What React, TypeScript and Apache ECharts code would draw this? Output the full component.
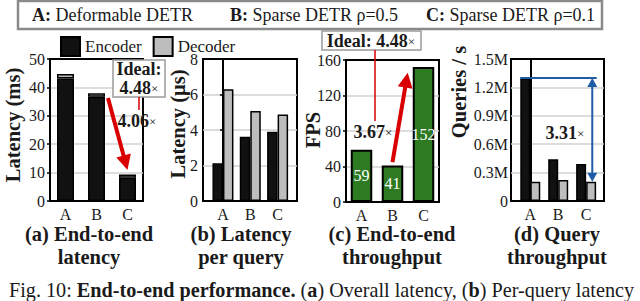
import React, { useEffect, useRef } from 'react';
import * as echarts from 'echarts';

// ---------- data ----------
const categories = ['A', 'B', 'C'];
const e2eEncoder = [43.1, 36.75, 8.2];
const e2eDecoder = [1.6, 1.2, 1.15];
const perQueryEncoder = [2.12, 3.62, 3.9];
const perQueryDecoder = [6.29, 5.07, 4.88];
const fps = [59, 41, 152];
const qpsEncoder = [1.3, 0.441, 0.392];
const qpsDecoder = [0.204, 0.222, 0.204];
const methodKeys = ['A:', 'B:', 'C:'];
const methodNames = ['Deformable DETR', 'Sparse DETR ρ=0.5', 'Sparse DETR ρ=0.1'];
const latencyTicks = [0, 10, 20, 30, 40, 50];
const perQueryTicks = [0, 2, 4, 6, 8];
const fpsTicks = [0, 40, 80, 120, 160];
const qpsTicks = [0, 0.3, 0.6, 0.9, 1.2, 1.5];

const FF = "'Liberation Serif', 'Times New Roman', serif";
const TXT = '#1a1a1a';
const RED = '#d80000';
const BLUE = '#1f5ca6';

const gridBoxes = [
  { left: 50, top: 59, width: 93, height: 142 },
  { left: 203, top: 59, width: 94, height: 142 },
  { left: 346, top: 60, width: 93, height: 142 },
  { left: 511, top: 59, width: 93, height: 142 },
];
// null => category axis with evenly spaced bands
const xRanges: (number[] | null)[] = [null, [-0.73, 2.71], null, [-0.69, 2.64]];
const yTickSets = [latencyTicks, perQueryTicks, fpsTicks, qpsTicks];

const pairs = (arr: number[]) => arr.map((v, i) => [i, v]);

function buildOption(): any {
  const grid = gridBoxes.map((g) => ({
    ...g,
    show: true,
    borderColor: '#000',
    borderWidth: 2,
    backgroundColor: 'transparent',
    containLabel: false,
    outerBoundsMode: 'none',
  }));
  const labelStyle = { fontFamily: FF, fontSize: 16, color: TXT, margin: 5 };
  const xAxis = xRanges.map((r, i) =>
    r
      ? {
          type: 'value',
          gridIndex: i,
          min: r[0],
          max: r[1],
          axisLine: { show: false },
          axisTick: { show: false, customValues: [0, 1, 2] },
          splitLine: { show: false },
          axisLabel: {
            ...labelStyle,
            customValues: [0, 1, 2],
            formatter: (v: number) => categories[Math.round(v)] ?? '',
          },
        }
      : {
          type: 'category',
          gridIndex: i,
          data: categories,
          axisLine: { show: false },
          axisTick: { show: false },
          splitLine: { show: false },
          axisLabel: labelStyle,
        }
  );
  const yAxis = yTickSets.map((ticks, i) => ({
    type: 'value',
    gridIndex: i,
    min: ticks[0],
    max: ticks[ticks.length - 1],
    interval: ticks[1] - ticks[0],
    axisLine: { show: true, lineStyle: { color: '#000', width: 2 } },
    axisTick: { show: true, length: 3, lineStyle: { color: '#000', width: 1.5 } },
    splitLine: {
      show: true,
      showMinLine: false,
      showMaxLine: false,
      lineStyle: { color: '#d2d2d2', width: 1.5 },
    },
    axisLabel: {
      fontFamily: FF,
      fontSize: 16,
      lineHeight: 12,
      color: TXT,
      margin: i === 3 ? 3 : 5,
      formatter:
        i === 3
          ? (v: number) => (Math.abs(v) < 1e-9 ? '0' : v.toFixed(1) + 'M')
          : (v: number) => String(Math.round(v)),
    },
  }));

  const blackStyle = { color: '#111', borderColor: '#000', borderWidth: 1.5 };
  const grayStyle = { color: '#bdbdbd', borderColor: '#000', borderWidth: 1.5 };

  const series: any[] = [
    {
      type: 'bar', name: 'Encoder', xAxisIndex: 0, yAxisIndex: 0, stack: 'e2e',
      data: e2eEncoder, barWidth: 17, itemStyle: blackStyle,
    },
    {
      type: 'bar', name: 'Decoder', xAxisIndex: 0, yAxisIndex: 0, stack: 'e2e',
      data: e2eDecoder, barWidth: 17, itemStyle: grayStyle,
    },
    {
      type: 'bar', name: 'Encoder', xAxisIndex: 1, yAxisIndex: 1,
      data: pairs(perQueryEncoder), barWidth: 10.5, barGap: '0%', itemStyle: blackStyle,
    },
    {
      type: 'bar', name: 'Decoder', xAxisIndex: 1, yAxisIndex: 1,
      data: pairs(perQueryDecoder), barWidth: 10.5, barGap: '0%', itemStyle: grayStyle,
    },
    {
      type: 'bar', name: 'FPS', xAxisIndex: 2, yAxisIndex: 2,
      data: fps, barWidth: 21.5,
      itemStyle: { color: '#2e7a22', borderColor: '#000', borderWidth: 2 },
      label: {
        show: true, position: 'inside', color: '#fff', fontFamily: FF, fontSize: 16,
      },
    },
    {
      type: 'bar', name: 'Encoder', xAxisIndex: 3, yAxisIndex: 3,
      data: pairs(qpsEncoder), barWidth: 10, barGap: '0%', itemStyle: blackStyle,
    },
    {
      type: 'bar', name: 'Decoder', xAxisIndex: 3, yAxisIndex: 3,
      data: pairs(qpsDecoder), barWidth: 10, barGap: '0%', itemStyle: grayStyle,
    },
  ];

  return {
    animation: false,
    backgroundColor: '#fff',
    grid,
    xAxis,
    yAxis,
    series,
    legend: {
      data: ['Encoder', 'Decoder'],
      left: 55,
      top: 31,
      itemWidth: 19,
      itemHeight: 19,
      itemGap: 11,
      icon: 'rect',
      selectedMode: false,
      textStyle: { fontFamily: FF, fontSize: 17, lineHeight: 14, color: TXT },
    },
  };
}

function txt(x: number, y: number, text: string, opts: any = {}) {
  const { rotation, ...style } = opts;
  return {
    type: 'text',
    x,
    y,
    rotation: rotation || 0,
    z: 100,
    silent: true,
    style: {
      text,
      fontFamily: FF,
      fontSize: 18,
      fill: TXT,
      align: 'center',
      textAlign: 'center',
      verticalAlign: 'middle',
      textVerticalAlign: 'middle',
      ...style,
    },
  };
}

function arrow(p0: number[], tip: number[], color: string, width: number, headLen: number, headHalf: number, bothEnds = false) {
  const dx = tip[0] - p0[0];
  const dy = tip[1] - p0[1];
  const len = Math.hypot(dx, dy);
  const ux = dx / len;
  const uy = dy / len;
  const nx = -uy;
  const ny = ux;
  const head = (t: number[], sx: number, sy: number) => {
    const bx = t[0] - sx * headLen;
    const by = t[1] - sy * headLen;
    return {
      type: 'polygon', z: 101, silent: true,
      shape: { points: [[t[0], t[1]], [bx + nx * headHalf, by + ny * headHalf], [bx - nx * headHalf, by - ny * headHalf]] },
      style: { fill: color },
    };
  };
  const start = bothEnds ? [p0[0] + ux * headLen * 0.8, p0[1] + uy * headLen * 0.8] : p0;
  const end = [tip[0] - ux * headLen * 0.8, tip[1] - uy * headLen * 0.8];
  const out: any[] = [
    {
      type: 'line', z: 100, silent: true,
      shape: { x1: start[0], y1: start[1], x2: end[0], y2: end[1] },
      style: { stroke: color, lineWidth: width },
    },
    head(tip, ux, uy),
  ];
  if (bothEnds) out.push(head(p0, -ux, -uy));
  return out;
}

function line(p0: number[], p1: number[], color: string, width: number) {
  return {
    type: 'line', z: 100, silent: true,
    shape: { x1: p0[0], y1: p0[1], x2: p1[0], y2: p1[1] },
    style: { stroke: color, lineWidth: width },
  };
}

function boxRect(x: number, y: number, w: number, h: number, stroke: string, lw: number) {
  return {
    type: 'rect', z: 99, silent: true,
    shape: { x, y, width: w, height: h },
    style: { fill: '#fff', stroke, lineWidth: lw },
  };
}

const bold = { fontWeight: 'bold', fontFamily: FF, fontSize: 18, fill: TXT };
const times = { fontWeight: 'normal', fontFamily: FF, fontSize: 13, fill: TXT };

function buildGraphics(px: (g: number, p: number[]) => number[]) {
  const g: any[] = [];
  // top method box
  g.push(boxRect(18, 1, 584, 28, '#8a8a8a', 2.5));
  const methodX = [32, 230, 426];
  methodKeys.forEach((k, i) => {
    g.push(
      txt(methodX[i], 15, `{b|${k}}{n| ${methodNames[i]}}`, {
        align: 'left', textAlign: 'left',
        rich: {
          b: { fontWeight: 'bold', fontFamily: FF, fontSize: 18, fill: TXT },
          n: { fontWeight: 'normal', fontFamily: FF, fontSize: 18, fill: TXT },
        },
      })
    );
  });

  // y-axis titles
  const yTitle = { rotation: Math.PI / 2, fontWeight: 'bold', fontSize: 20.5 };
  g.push(txt(13, 125, 'Latency (ms)', yTitle));
  g.push(txt(178, 124, 'Latency (μs)', yTitle));
  g.push(txt(313, 130, 'FPS', yTitle));
  g.push(txt(459, 92, 'Queries / s', yTitle));

  // subplot titles
  const sub = { fontWeight: 'bold', fontSize: 20.5 };
  g.push(txt(89, 234, '(a) End-to-end', sub));
  g.push(txt(89, 257, 'latency', sub));
  g.push(txt(241, 234, '(b) Latency', sub));
  g.push(txt(241, 257, 'per query', sub));
  g.push(txt(392, 234, '(c) End-to-end', sub));
  g.push(txt(392, 257, 'throughput', sub));
  g.push(txt(557, 234, '(d) Query', sub));
  g.push(txt(557, 257, 'throughput', sub));

  const rich = { b: bold, x: times };

  // (a) annotations
  g.push(boxRect(113, 60, 52, 37, '#9a9a9a', 1.5));
  g.push(txt(139, 69, '{b|Ideal:}', { rich }));
  g.push(txt(139, 88, '{b|4.48}{x|×}', { rich }));
  g.push(line([139, 97], [139, 110], RED, 1.5));
  g.push(txt(137, 121, '{b|4.06}{x|×}', { rich }));
  g.push(...arrow(px(0, [1.37, 36.3]), px(0, [2.0, 10.9]), RED, 4, 15, 7.5));

  // (c) annotations
  g.push(boxRect(322, 31, 99, 19, '#9a9a9a', 1.5));
  g.push(txt(371, 41, '{b|Ideal: 4.48}{x|×}', { rich }));
  g.push(line([375, 50], [375, 121], RED, 1.5));
  g.push(txt(373, 132, '{b|3.67}{x|×}', { rich }));
  g.push(...arrow(px(2, [1.0, 45]), px(2, [1.49, 145.6]), RED, 4, 15, 7.5));

  // (d) annotations
  g.push(line(px(3, [-0.36, qpsEncoder[0]]), px(3, [2.38, qpsEncoder[0]]), BLUE, 2));
  g.push(...arrow(px(3, [2.22, qpsEncoder[0]]), px(3, [2.22, qpsDecoder[2]]), BLUE, 2, 9, 5, true));
  g.push(txt(565, 133, '{b|3.31}{x|×}', { rich }));

  // caption
  g.push(
    txt(9, 290, '{n|Fig. 10: }{b|End-to-end performance.}{n| (}{b|a}{n|) Overall latency, (}{b|b}{n|) Per-query latency}', {
      align: 'left', textAlign: 'left',
      rich: {
        n: { fontWeight: 'normal', fontFamily: FF, fontSize: 20.2, fill: TXT },
        b: { fontWeight: 'bold', fontFamily: FF, fontSize: 20.2, fill: TXT },
      },
    })
  );
  return g;
}

export default function App() {
  const ref = useRef<HTMLDivElement>(null);
  useEffect(() => {
    document.body.style.margin = '0';
    if (!ref.current) return;
    const chart = echarts.init(ref.current, null, { renderer: 'svg' });
    chart.setOption(buildOption());
    // pixel position of a (possibly fractional) x position in a grid, via the library's axes
    const px = (gi: number, p: number[]) => {
      const a = chart.convertToPixel({ gridIndex: gi } as any, [0, p[1]]) as number[];
      const b = chart.convertToPixel({ gridIndex: gi } as any, [1, p[1]]) as number[];
      return [a[0] + (b[0] - a[0]) * p[0], a[1]];
    };
    chart.setOption({ graphic: buildGraphics(px) });
    return () => chart.dispose();
  }, []);
  return <div ref={ref} style={{ width: 640, height: 301 }} />;
}
